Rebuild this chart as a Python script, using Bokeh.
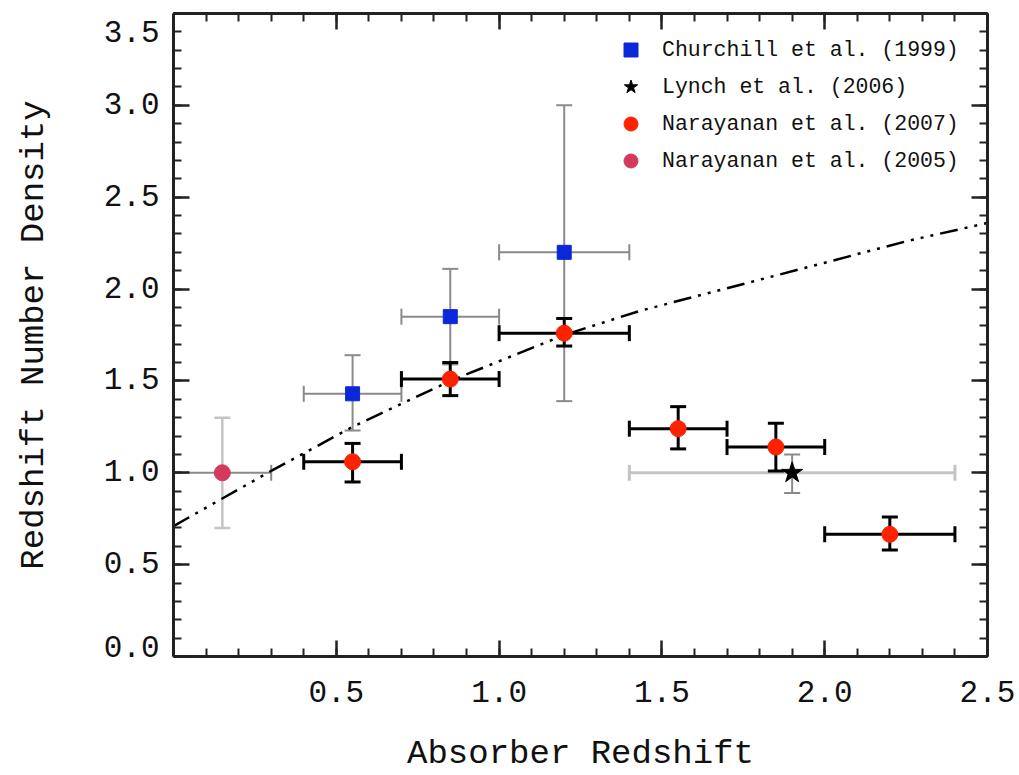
from bokeh.plotting import figure
from bokeh.models import (ColumnDataSource, Whisker, TeeHead, LinearAxis, FixedTicker,
                          PrintfTickFormatter, CustomJSTickFormatter, Range1d, Legend,
                          LegendItem)
from bokeh.embed import file_html
from bokeh.resources import INLINE
import numpy as np

# ---- data ----
church_z = [0.55, 0.85, 1.20]
church_n = [1.43, 1.85, 2.20]
church_zlo = [0.40, 0.70, 1.00]
church_zhi = [0.70, 1.00, 1.40]
church_nlo = [1.23, 1.59, 1.39]
church_nhi = [1.64, 2.11, 3.00]

lynch_z = [1.90]
lynch_n = [1.00]
lynch_zlo = [1.40]
lynch_zhi = [2.40]
lynch_nlo = [0.89]
lynch_nhi = [1.10]

n07_z = [0.55, 0.85, 1.20, 1.55, 1.85, 2.20]
n07_n = [1.06, 1.51, 1.76, 1.24, 1.14, 0.665]
n07_zlo = [0.40, 0.70, 1.00, 1.40, 1.70, 2.00]
n07_zhi = [0.70, 1.00, 1.40, 1.70, 2.00, 2.40]
n07_nlo = [0.95, 1.42, 1.69, 1.13, 1.01, 0.58]
n07_nhi = [1.16, 1.60, 1.84, 1.36, 1.27, 0.76]

n05_z = [0.15]
n05_n = [1.00]
n05_zlo = [0.00]
n05_zhi = [0.30]
n05_nlo = [0.70]
n05_nhi = [1.30]

curve_z = [0.0, 0.15, 0.30, 0.55, 0.85, 1.20, 1.43, 1.95, 2.25, 2.50]
curve_n = [0.71, 0.86, 1.01, 1.25, 1.50, 1.75, 1.88, 2.12, 2.26, 2.36]

x_major = [0.5, 1.0, 1.5, 2.0, 2.5]
y_major = [0.0, 0.5, 1.0, 1.5, 2.0, 2.5, 3.0, 3.5]

FONT = "Liberation Mono"

p = figure(width=1019, height=775, output_backend="svg", toolbar_location=None,
           x_range=Range1d(0, 2.5), y_range=Range1d(0, 3.5),
           min_border_left=173, min_border_right=32, min_border_top=13, min_border_bottom=117,
           x_axis_location=None, y_axis_location=None)
p.xgrid.visible = False
p.ygrid.visible = False
p.outline_line_color = None
p.background_fill_color = "white"
p.border_fill_color = "white"

xminor = list(np.round(np.arange(0, 2.51, 0.1), 2))
yminor = list(np.round(np.arange(0, 3.51, 0.1), 2))

def style_axis(ax):
    ax.axis_line_width = 3
    ax.axis_line_color = "#222222"
    ax.major_tick_in = 16
    ax.major_tick_out = 0
    ax.minor_tick_in = 8
    ax.minor_tick_out = 0
    ax.major_tick_line_width = 2.5
    ax.minor_tick_line_width = 2
    ax.major_tick_line_color = "#222222"
    ax.minor_tick_line_color = "#222222"
    ax.major_label_text_font = FONT
    ax.major_label_text_font_size = "31px"
    ax.major_label_text_color = "#111111"
    ax.axis_label_text_font = FONT
    ax.axis_label_text_font_size = "34px"
    ax.axis_label_text_font_style = "normal"
    ax.axis_label_text_color = "#111111"

blank = CustomJSTickFormatter(code="return ''")

xb = LinearAxis(ticker=FixedTicker(ticks=x_major, minor_ticks=xminor),
                formatter=PrintfTickFormatter(format="%.1f"), axis_label="Absorber Redshift")
style_axis(xb)
xb.major_label_standoff = 24
xb.axis_label_standoff = 30
p.add_layout(xb, "below")

xt = LinearAxis(ticker=FixedTicker(ticks=x_major, minor_ticks=xminor), formatter=blank)
style_axis(xt)
xt.major_label_standoff = 0
p.add_layout(xt, "above")

# the end labels (0.0 and 3.5) sit nudged inside the frame, as in the original
yl = LinearAxis(ticker=FixedTicker(ticks=y_major, minor_ticks=yminor),
                formatter=PrintfTickFormatter(format="%.1f"), axis_label="Redshift Number Density",
                major_label_overrides={0: "0.0\n", 3.5: "\n3.5"})
style_axis(yl)
yl.major_label_text_line_height = 0.43
yl.major_label_standoff = 14
yl.axis_label_standoff = 48
p.add_layout(yl, "left")

yr = LinearAxis(ticker=FixedTicker(ticks=y_major, minor_ticks=yminor), formatter=blank)
style_axis(yr)
yr.major_label_standoff = 0
p.add_layout(yr, "right")

# curve
p.line(curve_z, curve_n, line_color="black", line_width=2.5, line_dash="18 7 3 7 3 7 3 7")

def src(z, n, zlo, zhi, nlo, nhi):
    return ColumnDataSource(dict(z=z, n=n, zlo=zlo, zhi=zhi, nlo=nlo, nhi=nhi))

s_ch = src(church_z, church_n, church_zlo, church_zhi, church_nlo, church_nhi)
s_ly = src(lynch_z, lynch_n, lynch_zlo, lynch_zhi, lynch_nlo, lynch_nhi)
s_07 = src(n07_z, n07_n, n07_zlo, n07_zhi, n07_nlo, n07_nhi)
s_05 = src(n05_z, n05_n, n05_zlo, n05_zhi, n05_nlo, n05_nhi)

def whiskers(s, color_v, color_h, lw_v, lw_h, cap):
    wv = Whisker(source=s, base="z", lower="nlo", upper="nhi", dimension="height",
                 line_color=color_v, line_width=lw_v,
                 upper_head=TeeHead(size=cap, line_color=color_v, line_width=lw_v),
                 lower_head=TeeHead(size=cap, line_color=color_v, line_width=lw_v))
    wh = Whisker(source=s, base="n", lower="zlo", upper="zhi", dimension="width",
                 line_color=color_h, line_width=lw_h,
                 upper_head=TeeHead(size=cap, line_color=color_h, line_width=lw_h),
                 lower_head=TeeHead(size=cap, line_color=color_h, line_width=lw_h))
    return wh, wv

# grey error bars (under markers)
for w in whiskers(s_05, "#c4c4c4", "#8a8a8a", 2.5, 2, 16):
    w.level = "underlay"; p.add_layout(w)
for w in whiskers(s_ch, "#8a8a8a", "#8a8a8a", 2, 2, 16):
    w.level = "underlay"; p.add_layout(w)
for w in whiskers(s_ly, "#8a8a8a", "#c4c4c4", 2, 3, 16):
    w.level = "underlay"; p.add_layout(w)

r_ch = p.scatter("z", "n", source=s_ch, marker="square", size=14, fill_color="#0a28d8", line_color="#0a28d8")
r_05 = p.scatter("z", "n", source=s_05, marker="circle", size=16, fill_color="#d43a5c", line_color="#d43a5c")
r_07 = p.scatter("z", "n", source=s_07, marker="circle", size=16, fill_color="#ff2200", line_color="#ff2200")
r_ly = p.scatter("z", "n", source=s_ly, marker="star", size=22, fill_color="black", line_color="black")

# black error bars on top of red points
for w in whiskers(s_07, "black", "black", 3, 3, 16):
    p.add_layout(w)

leg = Legend(items=[LegendItem(label="Churchill et al. (1999)", renderers=[r_ch]),
                    LegendItem(label="Lynch et al. (2006)", renderers=[r_ly]),
                    LegendItem(label="Narayanan et al. (2007)", renderers=[r_07]),
                    LegendItem(label="Narayanan et al. (2005)", renderers=[r_05])],
             location=(440, 477), orientation="vertical",
             label_text_font=FONT, label_text_font_size="21.5px", label_text_color="#111111",
             glyph_width=35, glyph_height=37, label_height=37, spacing=0,
             label_standoff=14, padding=0, margin=0,
             border_line_color=None, background_fill_alpha=0)
p.add_layout(leg, "center")

open("out.html", "w").write(file_html(p, INLINE))
